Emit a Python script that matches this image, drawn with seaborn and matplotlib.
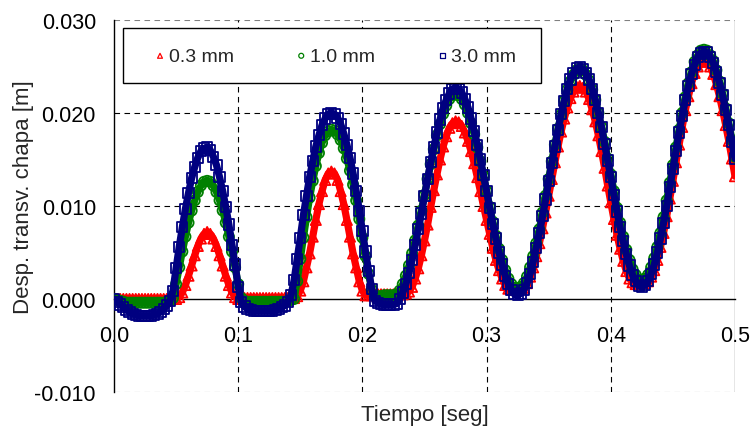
import numpy as np
import matplotlib
matplotlib.use("Agg")
import matplotlib.pyplot as plt
import seaborn as sns
from matplotlib.patches import Rectangle
from matplotlib.ticker import FixedLocator, FuncFormatter

sns.set_style("white")
plt.rcParams['font.family'] = ['Liberation Sans', 'DejaVu Sans']

# ---------------- data (step 0.0025 s) ----------------
tiempo = np.round(np.arange(201) * 0.0025, 4)

desp_03mm = [
    0.0000, 0.0000, 0.0000, 0.0000, 0.0000, 0.0000, 0.0000, 0.0000, 0.0000, 0.0000, 0.0000,
    0.0000, 0.0000, 0.0000, 0.0000, 0.0000, 0.0000, 0.0000, 0.0000, 0.0000, 0.0000,
    0.0002, 0.0007, 0.0015, 0.0025, 0.0036, 0.0047, 0.0057, 0.0065, 0.0070, 0.0072,
    0.0070, 0.0065, 0.0057, 0.0047, 0.0036, 0.0025, 0.0015, 0.0007, 0.0002, 0.0000,
    0.0001, 0.0001, 0.0001, 0.0001, 0.0001, 0.0001, 0.0001, 0.0001, 0.0001, 0.0001,
    0.0001, 0.0001, 0.0001, 0.0001, 0.0001, 0.0001, 0.0001, 0.0001, 0.0003, 0.0009,
    0.0019, 0.0034, 0.0049, 0.0067, 0.0085, 0.0102, 0.0116, 0.0128, 0.0135, 0.0137,
    0.0135, 0.0128, 0.0116, 0.0102, 0.0085, 0.0067, 0.0049, 0.0034, 0.0019, 0.0009,
    0.0004, 0.0004, 0.0004, 0.0005, 0.0005, 0.0005, 0.0005, 0.0005, 0.0005, 0.0005,
    0.0005, 0.0005, 0.0005, 0.0006, 0.0008, 0.0013, 0.0022, 0.0033, 0.0047, 0.0063,
    0.0080, 0.0099, 0.0117, 0.0134, 0.0150, 0.0164, 0.0175, 0.0184, 0.0189, 0.0191,
    0.0190, 0.0186, 0.0179, 0.0170, 0.0159, 0.0146, 0.0131, 0.0116, 0.0100, 0.0085,
    0.0070, 0.0055, 0.0042, 0.0031, 0.0022, 0.0015, 0.0011, 0.0010, 0.0010, 0.0011,
    0.0011, 0.0012, 0.0017, 0.0024, 0.0034, 0.0046, 0.0060, 0.0076, 0.0093, 0.0111,
    0.0129, 0.0147, 0.0164, 0.0180, 0.0194, 0.0206, 0.0216, 0.0223, 0.0228, 0.0229,
    0.0227, 0.0223, 0.0215, 0.0204, 0.0191, 0.0176, 0.0159, 0.0141, 0.0122, 0.0104,
    0.0086, 0.0069, 0.0054, 0.0041, 0.0030, 0.0022, 0.0018, 0.0016, 0.0016, 0.0017,
    0.0017, 0.0019, 0.0024, 0.0031, 0.0042, 0.0056, 0.0071, 0.0089, 0.0108, 0.0127,
    0.0147, 0.0166, 0.0185, 0.0203, 0.0218, 0.0232, 0.0243, 0.0250, 0.0255, 0.0257,
    0.0255, 0.0250, 0.0242, 0.0231, 0.0218, 0.0203, 0.0187, 0.0170, 0.0151, 0.0132,
]

desp_10mm = [
    0.0000, -0.0001, -0.0002, -0.0003, -0.0004, -0.0004, -0.0004, -0.0004, -0.0004, -0.0004, -0.0004,
    -0.0004, -0.0004, -0.0004, -0.0004, -0.0004, -0.0004, -0.0003, -0.0002, 0.0001, 0.0016,
    0.0034, 0.0051, 0.0067, 0.0082, 0.0095, 0.0106, 0.0115, 0.0122, 0.0126, 0.0127,
    0.0126, 0.0122, 0.0115, 0.0106, 0.0095, 0.0082, 0.0067, 0.0051, 0.0034, 0.0016,
    0.0001, -0.0002, -0.0003, -0.0003, -0.0003, -0.0003, -0.0003, -0.0003, -0.0003, -0.0003,
    -0.0003, -0.0003, -0.0003, -0.0003, -0.0003, -0.0002, -0.0001, 0.0000, 0.0019, 0.0043,
    0.0066, 0.0088, 0.0109, 0.0127, 0.0143, 0.0157, 0.0168, 0.0176, 0.0180, 0.0182,
    0.0181, 0.0177, 0.0171, 0.0162, 0.0151, 0.0138, 0.0123, 0.0106, 0.0086, 0.0066,
    0.0046, 0.0027, 0.0010, 0.0003, 0.0003, 0.0003, 0.0004, 0.0004, 0.0004, 0.0004,
    0.0005, 0.0009, 0.0016, 0.0025, 0.0036, 0.0049, 0.0063, 0.0079, 0.0095, 0.0112,
    0.0129, 0.0145, 0.0161, 0.0176, 0.0188, 0.0199, 0.0208, 0.0215, 0.0219, 0.0220,
    0.0219, 0.0215, 0.0209, 0.0200, 0.0189, 0.0177, 0.0163, 0.0148, 0.0132, 0.0116,
    0.0099, 0.0083, 0.0068, 0.0054, 0.0042, 0.0031, 0.0022, 0.0016, 0.0012, 0.0011,
    0.0013, 0.0017, 0.0024, 0.0034, 0.0046, 0.0060, 0.0075, 0.0093, 0.0111, 0.0129,
    0.0148, 0.0166, 0.0183, 0.0198, 0.0213, 0.0225, 0.0234, 0.0241, 0.0246, 0.0247,
    0.0246, 0.0241, 0.0235, 0.0225, 0.0214, 0.0200, 0.0185, 0.0169, 0.0151, 0.0134,
    0.0116, 0.0098, 0.0082, 0.0067, 0.0053, 0.0042, 0.0032, 0.0026, 0.0021, 0.0020,
    0.0022, 0.0026, 0.0034, 0.0044, 0.0056, 0.0071, 0.0088, 0.0106, 0.0125, 0.0144,
    0.0163, 0.0182, 0.0200, 0.0217, 0.0232, 0.0244, 0.0255, 0.0262, 0.0267, 0.0268,
    0.0267, 0.0262, 0.0256, 0.0246, 0.0234, 0.0221, 0.0205, 0.0189, 0.0171, 0.0153,
]

desp_30mm = [
    0.0000, -0.0003, -0.0006, -0.0009, -0.0012, -0.0014, -0.0016, -0.0017, -0.0018, -0.0018, -0.0018,
    -0.0018, -0.0018, -0.0017, -0.0016, -0.0014, -0.0011, -0.0007, -0.0002, 0.0009, 0.0033,
    0.0056, 0.0077, 0.0097, 0.0114, 0.0130, 0.0142, 0.0152, 0.0159, 0.0162, 0.0163,
    0.0160, 0.0153, 0.0144, 0.0131, 0.0116, 0.0099, 0.0080, 0.0058, 0.0037, 0.0013,
    -0.0003, -0.0008, -0.0011, -0.0012, -0.0013, -0.0013, -0.0013, -0.0013, -0.0013, -0.0013,
    -0.0013, -0.0012, -0.0011, -0.0009, -0.0007, -0.0003, 0.0004, 0.0020, 0.0043, 0.0066,
    0.0090, 0.0111, 0.0131, 0.0148, 0.0164, 0.0176, 0.0187, 0.0194, 0.0199, 0.0200,
    0.0199, 0.0195, 0.0188, 0.0178, 0.0166, 0.0152, 0.0135, 0.0116, 0.0095, 0.0073,
    0.0051, 0.0030, 0.0011, -0.0002, -0.0004, -0.0005, -0.0006, -0.0006, -0.0006, -0.0006,
    -0.0005, -0.0000, 0.0007, 0.0016, 0.0028, 0.0042, 0.0058, 0.0075, 0.0092, 0.0111,
    0.0129, 0.0147, 0.0163, 0.0179, 0.0193, 0.0205, 0.0214, 0.0221, 0.0226, 0.0227,
    0.0226, 0.0222, 0.0215, 0.0206, 0.0194, 0.0181, 0.0166, 0.0150, 0.0133, 0.0116,
    0.0098, 0.0081, 0.0065, 0.0050, 0.0037, 0.0025, 0.0016, 0.0010, 0.0005, 0.0004,
    0.0006, 0.0010, 0.0017, 0.0027, 0.0040, 0.0055, 0.0071, 0.0089, 0.0107, 0.0127,
    0.0146, 0.0164, 0.0182, 0.0199, 0.0213, 0.0226, 0.0236, 0.0243, 0.0248, 0.0249,
    0.0247, 0.0243, 0.0236, 0.0226, 0.0214, 0.0200, 0.0185, 0.0167, 0.0149, 0.0131,
    0.0112, 0.0094, 0.0077, 0.0062, 0.0048, 0.0036, 0.0026, 0.0019, 0.0014, 0.0013,
    0.0015, 0.0019, 0.0027, 0.0037, 0.0050, 0.0065, 0.0082, 0.0100, 0.0120, 0.0140,
    0.0159, 0.0179, 0.0197, 0.0214, 0.0229, 0.0242, 0.0252, 0.0260, 0.0264, 0.0266,
    0.0265, 0.0260, 0.0254, 0.0244, 0.0232, 0.0219, 0.0203, 0.0187, 0.0169, 0.0151,
]

series_labels = ["0.3 mm", "1.0 mm", "3.0 mm"]
series_colors = ["#FF0000", "#008000", "#000080"]
series_markers = ["^", "o", "s"]
x_ticks = [0.0, 0.1, 0.2, 0.3, 0.4, 0.5]
y_ticks = [-0.010, 0.000, 0.010, 0.020, 0.030]
x_label = "Tiempo [seg]"
y_label = "Desp. transv. chapa [m]"

# ---------------- figure ----------------
fig = plt.figure(figsize=(7.5, 4.31), dpi=100)
ax = fig.add_axes([0.152, 0.0882, 0.828, 0.8631])

for vals, lab, col, mk in zip([desp_03mm, desp_10mm, desp_30mm],
                              series_labels, series_colors, series_markers):
    # dense marker band: a thick trace under the open markers
    sns.lineplot(x=tiempo, y=vals, ax=ax, color=col, linewidth=5.2,
                 legend=False, zorder=3, solid_capstyle="round")
    sns.scatterplot(x=tiempo, y=vals, ax=ax, marker=mk, s=54,
                    facecolor="none", edgecolor=col, linewidth=1.3,
                    label=lab, zorder=3)

ax.set_xlim(x_ticks[0], x_ticks[-1])
ax.set_ylim(y_ticks[0], y_ticks[-1])
ax.xaxis.set_major_locator(FixedLocator(x_ticks))
ax.yaxis.set_major_locator(FixedLocator(y_ticks))
ax.xaxis.set_major_formatter(FuncFormatter(lambda v, p: f"{v:.1f}"))
ax.yaxis.set_major_formatter(FuncFormatter(lambda v, p: f"{0 if abs(v) < 1e-9 else v:.3f}"))

# grid / frame
dash = (0, (5, 4))
for yv in y_ticks:
    if yv == 0:
        continue
    edge = yv in (y_ticks[0], y_ticks[-1])
    ax.axhline(yv, color="#808080" if edge else "black", lw=0.8, ls=dash, zorder=1)
for xv in x_ticks[1:]:
    if xv == x_ticks[-1]:
        ax.axvline(xv, color="#808080", lw=1.0, ls="-", zorder=1)
    else:
        ax.axvline(xv, color="black", lw=0.8, ls=dash, zorder=1)

ax.spines["top"].set_visible(False)
ax.spines["right"].set_visible(False)
ax.spines["bottom"].set_position(("data", 0))
for s in ("left", "bottom"):
    ax.spines[s].set_color("black")
    ax.spines[s].set_linewidth(1.0)
    ax.spines[s].set_zorder(2)

ax.tick_params(axis="x", direction="inout", length=8, width=0.8, pad=15,
               labelsize=15.5, colors="black")
ax.tick_params(axis="y", direction="out", length=5, width=0.8, pad=8,
               labelsize=15.5, colors="black")

ax.set_xlabel(x_label, fontsize=16)
ax.set_ylabel(y_label, fontsize=16)
ax.xaxis.set_label_coords(0.5, -0.032)
ax.yaxis.set_label_coords(-0.129, 0.527)

# legend box
ax.add_patch(Rectangle((0.0145, 0.8306), 0.673, 0.1478, transform=ax.transAxes,
                       facecolor="white", edgecolor="black", lw=1.0, zorder=4))
handles, labels = ax.get_legend_handles_labels()
leg = ax.legend(handles, labels, ncol=3, frameon=False, loc="center left",
                bbox_to_anchor=(0.0647, 0.903), borderpad=0, borderaxespad=0,
                handlelength=0.6, handletextpad=0.15, columnspacing=3.17,
                fontsize=14, markerscale=0.48)
for h in leg.legend_handles:
    h.set_linewidth(0.9)
leg.set_zorder(5)

fig.savefig("out.png", dpi=100)
